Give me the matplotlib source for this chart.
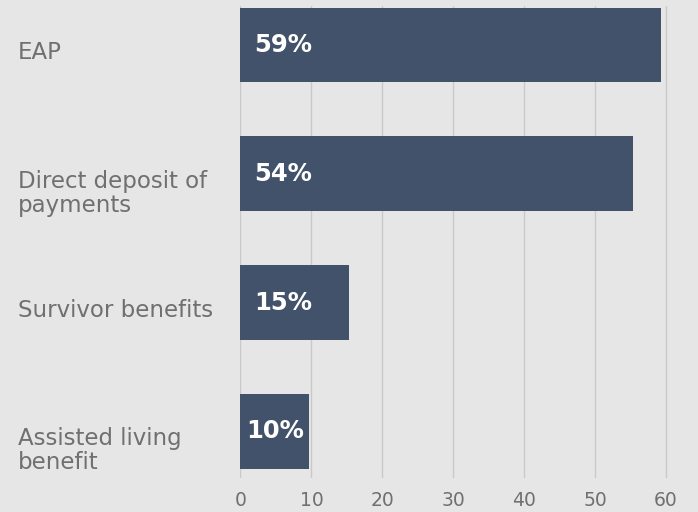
import matplotlib
matplotlib.use("Agg")
import matplotlib.pyplot as plt
import matplotlib.transforms as mtransforms

# Data
categories = ["EAP", "Direct deposit of\npayments", "Survivor benefits",
              "Assisted living\nbenefit"]
values = [59.3, 55.4, 15.3, 9.7]
value_labels = ["59%", "54%", "15%", "10%"]
xticks = [0, 10, 20, 30, 40, 50, 60]

BG = "#e6e6e6"
BAR = "#42526a"
GRID = "#c9c9c9"
TEXT = "#707070"


def main():
    fig = plt.figure(figsize=(6.98, 5.12), dpi=100, facecolor=BG)
    ax = fig.add_axes([240.5 / 698, 1 - 478 / 512, 1 - 240.5 / 698, 472 / 512])
    ax.set_facecolor(BG)

    pos = list(range(len(categories)))
    ax.barh(pos, values, height=0.58, color=BAR, zorder=3)

    ax.set_xlim(0, 64.5)
    ax.set_ylim(3.361, -0.303)
    ax.set_xticks(xticks)
    ax.set_xticklabels([str(t) for t in xticks])
    ax.set_yticks([])
    ax.tick_params(axis="x", length=0, pad=9, labelsize=13.5, labelcolor=TEXT)
    ax.grid(axis="x", color=GRID, linewidth=1, zorder=0)
    ax.set_axisbelow(True)
    for s in ax.spines.values():
        s.set_visible(False)

    # category labels, left aligned at the figure edge
    trans = mtransforms.blended_transform_factory(fig.transFigure, ax.transData)
    for p, cat in zip(pos, categories):
        t = mtransforms.offset_copy(trans, fig=fig, x=0, y=3, units="points")
        ax.text(18 / 698, p, cat, transform=t, ha="left", va="top",
                fontsize=16.5, color=TEXT, linespacing=1.05, clip_on=False)

    # value labels inside the bars (centred when the bar is short)
    for p, v, lab in zip(pos, values, value_labels):
        if v < 12:
            ax.text(v / 2, p, lab, ha="center", va="center", fontsize=17.5,
                    fontweight="bold", color="white", zorder=4)
        else:
            ax.text(2.0, p, lab, ha="left", va="center", fontsize=17.5,
                    fontweight="bold", color="white", zorder=4)

    fig.savefig("out.png", dpi=100, facecolor=BG)


if __name__ == "__main__":
    main()
